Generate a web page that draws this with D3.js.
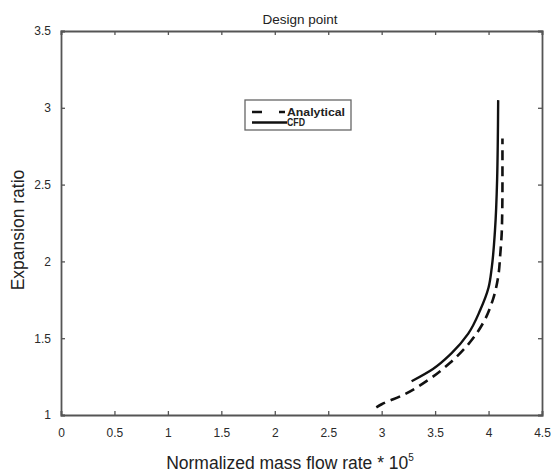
<!DOCTYPE html>
<html>
<head>
<meta charset="utf-8">
<script src="https://cdnjs.cloudflare.com/ajax/libs/d3/7.8.5/d3.min.js"></script>
<style>
  html, body { margin: 0; padding: 0; background: #fff; }
  svg { display: block; font-family: "Liberation Sans", Arial, sans-serif; }
</style>
</head>
<body>
<svg id="chart" width="552" height="476"></svg>
<script>
// Axis tick values
const xTicks = [0, 0.5, 1, 1.5, 2, 2.5, 3, 3.5, 4, 4.5];
const yTicks = [1, 1.5, 2, 2.5, 3, 3.5];

// Analytical curve: normalized mass flow rate (x 1e5) vs expansion ratio
const analyticalFlow  = [2.95, 3.00, 3.20, 3.44, 3.64, 3.81, 3.95, 4.04, 4.09, 4.11, 4.125, 4.13, 4.13];
const analyticalRatio = [1.05, 1.07, 1.13, 1.23, 1.34, 1.46, 1.60, 1.75, 1.90, 2.05, 2.22, 2.50, 2.80];

// CFD curve
const cfdFlow  = [3.28, 3.48, 3.65, 3.81, 3.92, 4.00, 4.03, 4.06, 4.08, 4.09];
const cfdRatio = [1.22, 1.30, 1.40, 1.53, 1.68, 1.83, 1.96, 2.20, 2.53, 3.05];

const svg = d3.select("#chart");
const margin = { left: 61, right: 10, top: 31, bottom: 61 };
const W = 552, H = 476;
const x = d3.scaleLinear().domain([0, 4.5]).range([margin.left, W - margin.right]);
const y = d3.scaleLinear().domain([1, 3.5]).range([H - margin.bottom, margin.top]);

const axisColor = "#555";
const textColor = "#2a2a2a";

// Bottom axis with inward ticks
const gx = svg.append("g").attr("transform", `translate(0,${y(1)})`)
  .call(d3.axisBottom(x).tickValues(xTicks).tickSize(-4).tickPadding(13)
    .tickFormat(d3.format("")));
// Left axis with inward ticks
const gy = svg.append("g").attr("transform", `translate(${x(0)},0)`)
  .call(d3.axisLeft(y).tickValues(yTicks).tickSize(-4).tickPadding(10)
    .tickFormat(d3.format("")));
// Top and right axes closing the box, ticks only
const gt = svg.append("g").attr("transform", `translate(0,${y(3.5)})`)
  .call(d3.axisTop(x).tickValues(xTicks).tickSize(-4).tickFormat(""));
const gr = svg.append("g").attr("transform", `translate(${x(4.5)},0)`)
  .call(d3.axisRight(y).tickValues(yTicks).tickSize(-4).tickFormat(""));

[gx, gy, gt, gr].forEach(g => {
  g.select(".domain").attr("stroke", axisColor).attr("stroke-width", 1.8);
  g.selectAll(".tick line").attr("stroke", axisColor).attr("stroke-width", 1.3);
  g.selectAll(".tick text").attr("fill", textColor).attr("font-size", 12)
    .attr("font-family", "'Liberation Sans', Arial, sans-serif");
});

// Curves
const analytical = analyticalFlow.map((v, i) => [v, analyticalRatio[i]]);
const cfd = cfdFlow.map((v, i) => [v, cfdRatio[i]]);
const curve = d3.line().x(d => x(d[0])).y(d => y(d[1])).curve(d3.curveMonotoneY);

svg.append("path").datum(analytical)
  .attr("d", curve).attr("fill", "none").attr("stroke", "#111")
  .attr("stroke-width", 2.6).attr("stroke-dasharray", "10,6");
svg.append("path").datum(cfd)
  .attr("d", curve).attr("fill", "none").attr("stroke", "#111")
  .attr("stroke-width", 2.4);

// Legend
const lg = svg.append("g");
lg.append("rect").attr("x", 245).attr("y", 100).attr("width", 106).attr("height", 30)
  .attr("fill", "#fff").attr("stroke", "#666").attr("stroke-width", 1.3);
const legendItems = [
  { label: "Analytical", dash: "10,17,6", yy: 112, len: 58 },
  { label: "CFD", dash: null, yy: 122.5, len: 18 }
];
legendItems.forEach(it => {
  const l = lg.append("line").attr("x1", 252).attr("x2", 287)
    .attr("y1", it.yy).attr("y2", it.yy).attr("stroke", "#111").attr("stroke-width", 2.4);
  if (it.dash) l.attr("stroke-dasharray", it.dash);
  lg.append("text").attr("x", 287).attr("y", it.yy + 3.5)
    .attr("font-size", 10).attr("font-weight", "bold").attr("fill", "#222")
    .attr("textLength", it.len).attr("lengthAdjust", "spacingAndGlyphs")
    .text(it.label);
});

// Title
svg.append("text").attr("x", 300).attr("y", 24).attr("text-anchor", "middle")
  .attr("font-size", 13.5).attr("fill", "#222").text("Design point");

// X axis label with superscript exponent
const xl = svg.append("text").attr("x", 290).attr("y", 469).attr("text-anchor", "middle")
  .attr("font-size", 17.5).attr("fill", "#222");
xl.append("tspan").text("Normalized mass flow rate * 10");
xl.append("tspan").attr("dy", -8).attr("font-size", 10).text("5");

// Y axis label
svg.append("text").attr("transform", `translate(24,${(y(1) + y(3.5)) / 2 + 7}) rotate(-90)`)
  .attr("text-anchor", "middle").attr("font-size", 17.5).attr("fill", "#222")
  .text("Expansion ratio");
</script>
</body>
</html>
